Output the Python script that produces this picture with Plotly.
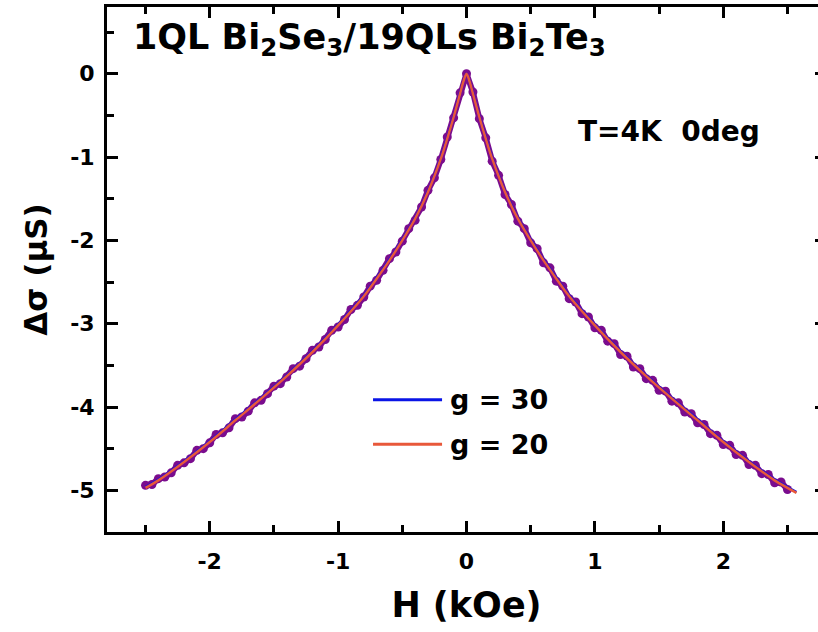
import plotly.graph_objects as go

# Magnetoconductance of 1QL Bi2Se3 / 19QLs Bi2Te3 at T = 4 K, field at 0 deg
# Field in kOe, conductance change in micro-siemens.
h_meas = [-2.50, -2.45, -2.40, -2.35, -2.30, -2.25, -2.20, -2.15, -2.10, -2.05,
          -2.00, -1.95, -1.90, -1.85, -1.80, -1.75, -1.70, -1.65, -1.60, -1.55,
          -1.50, -1.45, -1.40, -1.35, -1.30, -1.25, -1.20, -1.15, -1.10, -1.05,
          -1.00, -0.95, -0.90, -0.85, -0.80, -0.75, -0.70, -0.65, -0.60, -0.55,
          -0.50, -0.45, -0.40, -0.35, -0.30, -0.25, -0.20, -0.15, -0.10, -0.05,
          0.00,
          0.05, 0.10, 0.15, 0.20, 0.25, 0.30, 0.35, 0.40, 0.45, 0.50,
          0.55, 0.60, 0.65, 0.70, 0.75, 0.80, 0.85, 0.90, 0.95, 1.00,
          1.05, 1.10, 1.15, 1.20, 1.25, 1.30, 1.35, 1.40, 1.45, 1.50,
          1.55, 1.60, 1.65, 1.70, 1.75, 1.80, 1.85, 1.90, 1.95, 2.00,
          2.05, 2.10, 2.15, 2.20, 2.25, 2.30, 2.35, 2.40, 2.45, 2.50]
ds_meas = [-4.94, -4.93, -4.86, -4.84, -4.79, -4.70, -4.67, -4.62, -4.52, -4.50,
           -4.43, -4.33, -4.31, -4.25, -4.14, -4.12, -4.05, -3.95, -3.92, -3.84,
           -3.75, -3.72, -3.64, -3.54, -3.51, -3.42, -3.32, -3.28, -3.19, -3.08,
           -3.04, -2.95, -2.83, -2.78, -2.68, -2.55, -2.48, -2.36, -2.22, -2.14,
           -2.01, -1.86, -1.76, -1.60, -1.40, -1.25, -1.03, -0.76, -0.53, -0.23,
           0.00,
           -0.22, -0.54, -0.77, -1.05, -1.22, -1.45, -1.57, -1.77, -1.86, -2.03,
           -2.10, -2.27, -2.33, -2.49, -2.55, -2.70, -2.74, -2.88, -2.92, -3.05,
           -3.08, -3.21, -3.24, -3.37, -3.39, -3.52, -3.54, -3.66, -3.68, -3.80,
           -3.81, -3.93, -3.95, -4.06, -4.08, -4.19, -4.21, -4.32, -4.34, -4.45,
           -4.46, -4.57, -4.58, -4.69, -4.70, -4.80, -4.81, -4.91, -4.90, -4.99]

# HLN fit curves for two values of g
h_fit = [-2.50, -2.40, -2.20, -2.00, -1.80, -1.60, -1.40, -1.20, -1.00, -0.80,
         -0.70, -0.60, -0.50, -0.40, -0.30, -0.20, -0.15, -0.10, -0.05, -0.025,
         0.00, 0.025, 0.05, 0.10, 0.15, 0.20, 0.30, 0.40, 0.50, 0.60,
         0.70, 0.80, 1.00, 1.20, 1.40, 1.60, 1.80, 2.00, 2.20, 2.40,
         2.50, 2.57]
fit_g30 = [-4.96, -4.87, -4.65, -4.41, -4.15, -3.89, -3.62, -3.33, -3.01, -2.66,
           -2.45, -2.23, -1.99, -1.73, -1.41, -1.01, -0.77, -0.51, -0.23, -0.10,
           0.00, -0.10, -0.23, -0.51, -0.77, -1.01, -1.41, -1.73, -1.99, -2.23,
           -2.45, -2.66, -3.01, -3.33, -3.62, -3.89, -4.15, -4.41, -4.65, -4.87,
           -4.96, -5.02]
fit_g20 = [-4.97, -4.88, -4.66, -4.42, -4.16, -3.90, -3.63, -3.34, -3.02, -2.67,
           -2.46, -2.24, -2.00, -1.74, -1.42, -1.02, -0.78, -0.52, -0.24, -0.10,
           0.00, -0.10, -0.24, -0.52, -0.78, -1.02, -1.42, -1.74, -2.00, -2.24,
           -2.46, -2.67, -3.02, -3.34, -3.63, -3.90, -4.16, -4.42, -4.66, -4.88,
           -4.97, -5.03]

x_ticks = [-2, -1, 0, 1, 2]
y_ticks = [0, -1, -2, -3, -4, -5]

PURPLE = "#7A0C8E"
BLUE = "#0A14E6"
RED = "#E8583A"
FAMILY = "DejaVu Sans, Verdana, Arial"
TICK_FONT = dict(family=FAMILY, size=22, color="black", weight="bold")
TEXT_FONT = dict(family=FAMILY, color="black", weight="bold")

fig = go.Figure()
fig.add_trace(go.Scatter(x=h_meas, y=ds_meas, mode="lines+markers",
                         line=dict(color=PURPLE, width=6),
                         marker=dict(color=PURPLE, size=9, line=dict(width=0)),
                         showlegend=False))
fig.add_trace(go.Scatter(x=h_fit, y=fit_g30, mode="lines", line=dict(color=BLUE, width=2.5),
                         line_shape="spline", showlegend=False))
fig.add_trace(go.Scatter(x=h_fit, y=fit_g20, mode="lines", line=dict(color=RED, width=2.5),
                         line_shape="spline", showlegend=False))

axis_common = dict(showline=True, linecolor="black", linewidth=3, mirror="ticks",
                   ticks="inside", ticklen=11, tickwidth=2.5, tickcolor="black",
                   showgrid=False, zeroline=False, tickfont=TICK_FONT,
                   minor=dict(ticks="inside", ticklen=7, tickwidth=2.5, tickcolor="black",
                              showgrid=False))

fig.update_xaxes(range=[-2.8, 2.8], tickvals=x_ticks, ticktext=[f"{v:g}" for v in x_ticks],
                 minor_dtick=0.5, minor_tick0=0, ticklabelstandoff=8,
                 title=dict(text="H (kOe)", standoff=20,
                            font=dict(size=35, **TEXT_FONT)),
                 **axis_common)
fig.update_yaxes(range=[-5.5, 0.8], tickvals=y_ticks, ticktext=[f"{v:g}" for v in y_ticks],
                 minor_dtick=0.5, minor_tick0=0, ticklabelstandoff=5,
                 title=dict(text="Δσ (μS)", standoff=14,
                            font=dict(size=31, **TEXT_FONT)),
                 **axis_common)

annotations = [
    dict(text="1QL Bi<sub>2</sub>Se<sub>3</sub>/19QLs Bi<sub>2</sub>Te<sub>3</sub>",
         x=0.034, y=0.985, xanchor="left", yanchor="top",
         font=dict(size=35, **TEXT_FONT)),
    dict(text="T=4K  0deg", x=0.652, y=0.763, xanchor="left", yanchor="middle",
         font=dict(size=28, **TEXT_FONT)),
    dict(text="g = 30", x=0.474, y=0.252, xanchor="left", yanchor="middle",
         font=dict(size=27, **TEXT_FONT)),
    dict(text="g = 20", x=0.474, y=0.167, xanchor="left", yanchor="middle",
         font=dict(size=27, **TEXT_FONT)),
]
for a in annotations:
    a.update(xref="paper", yref="paper", showarrow=False)

shapes = [
    dict(type="line", xref="paper", yref="paper", x0=0.370, x1=0.466, y0=0.252, y1=0.252,
         line=dict(color=BLUE, width=3)),
    dict(type="line", xref="paper", yref="paper", x0=0.370, x1=0.466, y0=0.167, y1=0.167,
         line=dict(color=RED, width=3)),
]

fig.update_layout(width=836, height=632, margin=dict(l=107, r=10, t=4, b=100),
                  plot_bgcolor="white", paper_bgcolor="white",
                  annotations=annotations, shapes=shapes)

fig.write_html("out.html", post_script="document.body.style.overflow='hidden';")
